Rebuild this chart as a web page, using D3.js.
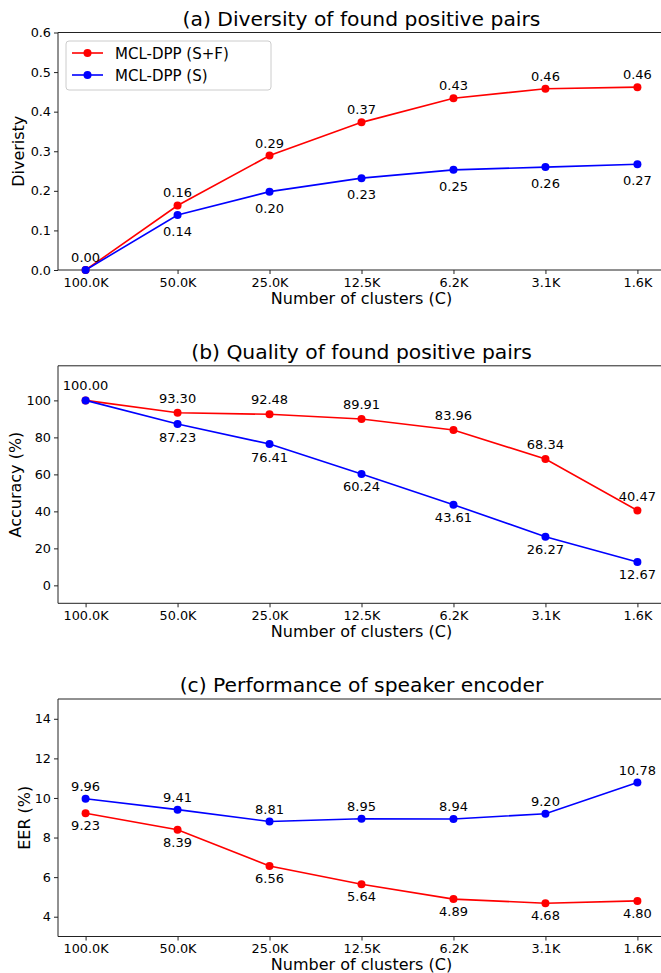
<!DOCTYPE html>
<html>
<head>
<meta charset="utf-8">
<script src="https://d3js.org/d3.v7.min.js"></script>
<style>
  body { margin: 0; background: #fff; }
  svg { display: block; font-family: 'DejaVu Sans', sans-serif; }
</style>
</head>
<body>
<svg width="661" height="973"></svg>
<script>

// categories shared by all three panels
var clusters = ['100.0K', '50.0K', '25.0K', '12.5K', '6.2K', '3.1K', '1.6K'];

// (a) diversity
var divSF = [0.0, 0.163, 0.289, 0.373, 0.434, 0.458, 0.462];
var divS  = [0.0, 0.139, 0.198, 0.232, 0.253, 0.260, 0.267];
var divTicks = [0, 0.1, 0.2, 0.3, 0.4, 0.5, 0.6];

// (b) accuracy
var accSF = [100.00, 93.30, 92.48, 89.91, 83.96, 68.34, 40.47];
var accS  = [100.00, 87.23, 76.41, 60.24, 43.61, 26.27, 12.67];
var accTicks = [0, 20, 40, 60, 80, 100];

// (c) EER
var eerSF = [9.23, 8.39, 6.56, 5.64, 4.89, 4.68, 4.80];
var eerS  = [9.96, 9.41, 8.81, 8.95, 8.94, 9.20, 10.78];
var eerTicks = [4, 6, 8, 10, 12, 14];

var RED = '#ff0000', BLUE = '#0000ff';

var svg = d3.select('svg');
svg.append('rect').attr('width', 661).attr('height', 973).attr('fill', '#fff');

var left = 58, right = 665, axH = 237.5;

var x = d3.scalePoint()
    .domain(clusters)
    .range([left, right])
    .padding(0.3);

// each panel: title, y label, domain, ticks, series and where their labels go
var panels = [
    { top: 32.5, title: '(a) Diversity of found positive pairs', ylab: 'Diveristy', ylabX: 23.5,
      domain: [0, 0.6], ticks: divTicks, fmt: d3.format('.1f'),
      series: [
        { name: 'MCL-DPP (S+F)', color: RED, values: divSF, dy: -8, skipFirst: false },
        { name: 'MCL-DPP (S)', color: BLUE, values: divS, dy: 21, skipFirst: true }
      ], legend: true },
    { top: 365.8, title: '(b) Quality of found positive pairs', ylab: 'Accuracy (%)', ylabX: 20.6,
      domain: [-9.7, 118.7], ticks: accTicks, fmt: d3.format('d'),
      series: [
        { name: 'MCL-DPP (S+F)', color: RED, values: accSF, dy: -10, skipFirst: false },
        { name: 'MCL-DPP (S)', color: BLUE, values: accS, dy: 17.5, skipFirst: true }
      ] },
    { top: 699, title: '(c) Performance of speaker encoder', ylab: 'EER (%)', ylabX: 29.6,
      domain: [3, 15], ticks: eerTicks, fmt: d3.format('d'),
      series: [
        { name: 'MCL-DPP (S+F)', color: RED, values: eerSF, dy: 17, skipFirst: false },
        { name: 'MCL-DPP (S)', color: BLUE, values: eerS, dy: -7.5, skipFirst: false }
      ] }
];

panels.forEach(function (p) {
    var y = d3.scaleLinear().domain(p.domain).range([p.top + axH, p.top]);
    var g = svg.append('g');

    // x axis
    var xa = g.append('g')
        .attr('transform', 'translate(0,' + (p.top + axH) + ')')
        .call(d3.axisBottom(x).tickSizeOuter(0).tickSize(4).tickPadding(3.5));
    xa.select('.domain').attr('stroke', '#222').attr('d', 'M' + left + ',0H' + right);
    xa.selectAll('.tick line').attr('stroke', '#222');
    xa.selectAll('text').attr('font-size', 12.8).attr('fill', '#000')
        .attr('font-family', 'DejaVu Sans');

    // y axis
    var ya = g.append('g')
        .attr('transform', 'translate(' + left + ',0)')
        .call(d3.axisLeft(y).tickValues(p.ticks).tickFormat(p.fmt).tickSizeOuter(0).tickSize(4).tickPadding(3));
    ya.select('.domain').attr('stroke', '#222').attr('d', 'M0,' + p.top + 'V' + (p.top + axH));
    ya.selectAll('.tick line').attr('stroke', '#222');
    ya.selectAll('text').attr('font-size', 12.8).attr('fill', '#000')
        .attr('font-family', 'DejaVu Sans');

    // top spine
    g.append('line')
        .attr('x1', left).attr('x2', right)
        .attr('y1', p.top).attr('y2', p.top)
        .attr('stroke', '#222');

    // title and axis labels
    g.append('text')
        .attr('x', (left + right) / 2).attr('y', p.top - 7)
        .attr('text-anchor', 'middle').attr('font-size', 20.3)
        .text(p.title);

    g.append('text')
        .attr('x', (left + right) / 2).attr('y', p.top + axH + 33.5)
        .attr('text-anchor', 'middle').attr('font-size', 16)
        .text('Number of clusters (C)');

    g.append('text')
        .attr('transform', 'translate(' + p.ylabX + ',' + (p.top + axH / 2) + ') rotate(-90)')
        .attr('text-anchor', 'middle').attr('font-size', 16)
        .text(p.ylab);

    // lines, markers, value labels
    p.series.forEach(function (s) {
        var pts = s.values.map(function (v, i) { return { c: clusters[i], v: v, i: i }; });

        g.append('path')
            .datum(pts)
            .attr('fill', 'none')
            .attr('stroke', s.color)
            .attr('stroke-width', 1.6)
            .attr('d', d3.line()
                .x(function (d) { return x(d.c); })
                .y(function (d) { return y(d.v); }));

        g.append('g')
            .selectAll('circle')
            .data(pts)
            .enter()
            .append('circle')
            .attr('cx', function (d) { return x(d.c); })
            .attr('cy', function (d) { return y(d.v); })
            .attr('r', 4)
            .attr('fill', s.color);

        g.append('g')
            .selectAll('text')
            .data(pts.filter(function (d) { return !(s.skipFirst && d.i === 0); }))
            .enter()
            .append('text')
            .attr('x', function (d) { return x(d.c); })
            .attr('y', function (d) { return y(d.v) + s.dy; })
            .attr('text-anchor', 'middle')
            .attr('font-size', 13)
            .text(function (d) { return d.v.toFixed(2); });
    });

    // legend
    if (p.legend) {
        var lg = g.append('g').attr('transform', 'translate(66,41)');
        lg.append('rect')
            .attr('width', 205).attr('height', 49)
            .attr('rx', 3)
            .attr('fill', '#fff').attr('fill-opacity', 0.8)
            .attr('stroke', '#cccccc');
        p.series.forEach(function (s, i) {
            var ly = 12 + i * 22;
            lg.append('line')
                .attr('x1', 6).attr('x2', 37)
                .attr('y1', ly).attr('y2', ly)
                .attr('stroke', s.color).attr('stroke-width', 1.6);
            lg.append('circle')
                .attr('cx', 21.5).attr('cy', ly).attr('r', 4)
                .attr('fill', s.color);
            lg.append('text')
                .attr('x', 49).attr('y', ly + 5.5)
                .attr('font-size', 15)
                .text(s.name);
        });
    }
});

</script>
</body>
</html>
